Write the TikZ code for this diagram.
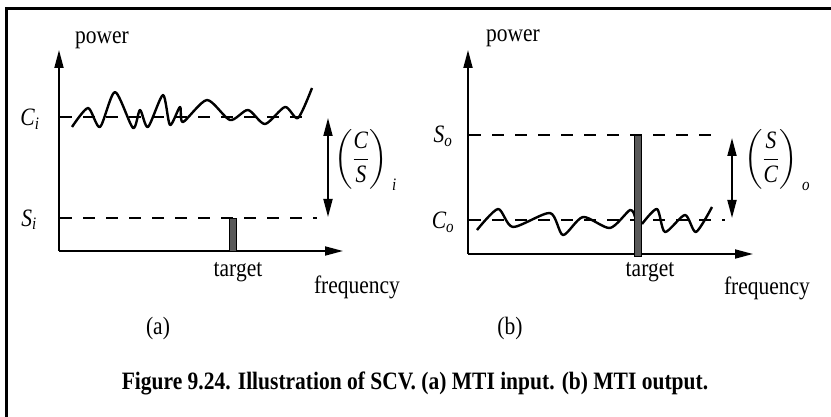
\documentclass[tikz,border=0pt]{standalone}
\usepackage{amsmath}
\usepackage{fontspec}
\setmainfont{Liberation Serif}[FakeStretch=0.86]
\usetikzlibrary{arrows.meta}

\begin{document}
\begin{tikzpicture}[
  x=1pt,y=-1pt,
  axis/.style={line width=1.8pt,-{Triangle[length=18pt,width=9pt]}},
  level/.style={line width=1.6pt,dash pattern=on 12pt off 11pt},
  noise/.style={line width=2.4pt,line join=round},
  ratio/.style={line width=1.8pt,
    {Triangle[length=18pt,width=9pt]}-{Triangle[length=18pt,width=9pt]}},
  spike/.style={draw,line width=0.8pt,fill=black!65},
  lbl/.style={font=\fontsize{25}{28}\selectfont,inner sep=0pt}
]
\useasboundingbox (0,0) rectangle (831,417);
% Frame
\draw[line width=3pt] (6,417) -- (6,9) -- (831,9);

% (a) MTI input
\coordinate (oa) at (59,251);
\coordinate (ya) at (59,50);
\coordinate (xa) at (343,251);
\draw[axis] (oa) -- (ya);
\draw[axis] (oa) -- (xa);
\node[lbl] (pwa) at (102,40) {power};
\node[lbl,anchor=base] (ci) at (30,126) {$\text{\itshape C}_{\text{\itshape i}}$};
\node[lbl,anchor=base] (si) at (29,226) {$\text{\itshape S}_{\text{\itshape i}}$};
\coordinate (cia) at (60,117);
\coordinate (cib) at (308,117);
\coordinate (sia) at (60,218);
\coordinate (sib) at (317,218);
\draw[level] (cia) -- (cib);
\draw[level] (sia) -- (sib);
\draw[noise] plot[smooth,tension=0.45] coordinates {
  (72,127) (88,108) (100,127) (115,92) (133,128) (140,110) (148,127)
  (163,95) (170,125) (180,107) (183,122) (207,100) (230,120) (248,110)
  (265,124) (285,107) (298,118) (312,88)};
\draw[spike] (229,218) rectangle (236,251);
\node[lbl] (tga) at (238,272) {target};
\node[lbl] (fqa) at (357,287) {frequency};
\coordinate (ra1) at (328,118);
\coordinate (ra2) at (328,217);
\draw[ratio] (ra1) -- (ra2);
\node[lbl,anchor=west] (csi) at (334,160)
  {$\left(\dfrac{\text{\itshape C}}{\text{\itshape S}}\right)_{\!\text{\itshape\ \ i}}$};
\node[lbl] (capa) at (158,328) {(a)};

% (b) MTI output
\coordinate (ob) at (468,254);
\coordinate (yb) at (468,50);
\coordinate (xb) at (753,254);
\draw[axis] (ob) -- (yb);
\draw[axis] (ob) -- (xb);
\node[lbl] (pwb) at (513,38) {power};
\node[lbl,anchor=base] (so) at (443,143) {$\text{\itshape S}_{\text{\itshape o}}$};
\node[lbl,anchor=base] (co) at (443,229) {$\text{\itshape C}_{\text{\itshape o}}$};
\coordinate (soa) at (469,135);
\coordinate (sob) at (720,135);
\coordinate (coa) at (469,220);
\coordinate (cob) at (725,220);
\draw[level] (soa) -- (sob);
\draw[level] (coa) -- (cob);
\draw[noise] plot[smooth,tension=0.45] coordinates {
  (477,230) (498,209) (513,227) (550,213) (563,235) (583,217) (610,228)
  (630,210) (635,217)};
\draw[noise] plot[smooth,tension=0.45] coordinates {
  (642,224) (657,209) (665,232) (685,215) (696,232) (712,207)};
\draw[spike] (634,135) rectangle (641,256);
\node[lbl] (tgb) at (650,272) {target};
\node[lbl] (fqb) at (767,288) {frequency};
\coordinate (rb1) at (732,138);
\coordinate (rb2) at (732,218);
\draw[ratio] (rb1) -- (rb2);
\node[lbl,anchor=west] (sco) at (744,160)
  {$\left(\dfrac{\text{\itshape S}}{\text{\itshape C}}\right)_{\!\text{\itshape\ \ o}}$};
\node[lbl] (capb) at (510,328) {(b)};

% Caption
\node[lbl,font=\fontsize{25}{28}\selectfont\bfseries] (cap) at (415,383)
  {Figure 9.24. Illustration of SCV. (a) MTI input. (b) MTI output.};
\end{tikzpicture}
\end{document}
